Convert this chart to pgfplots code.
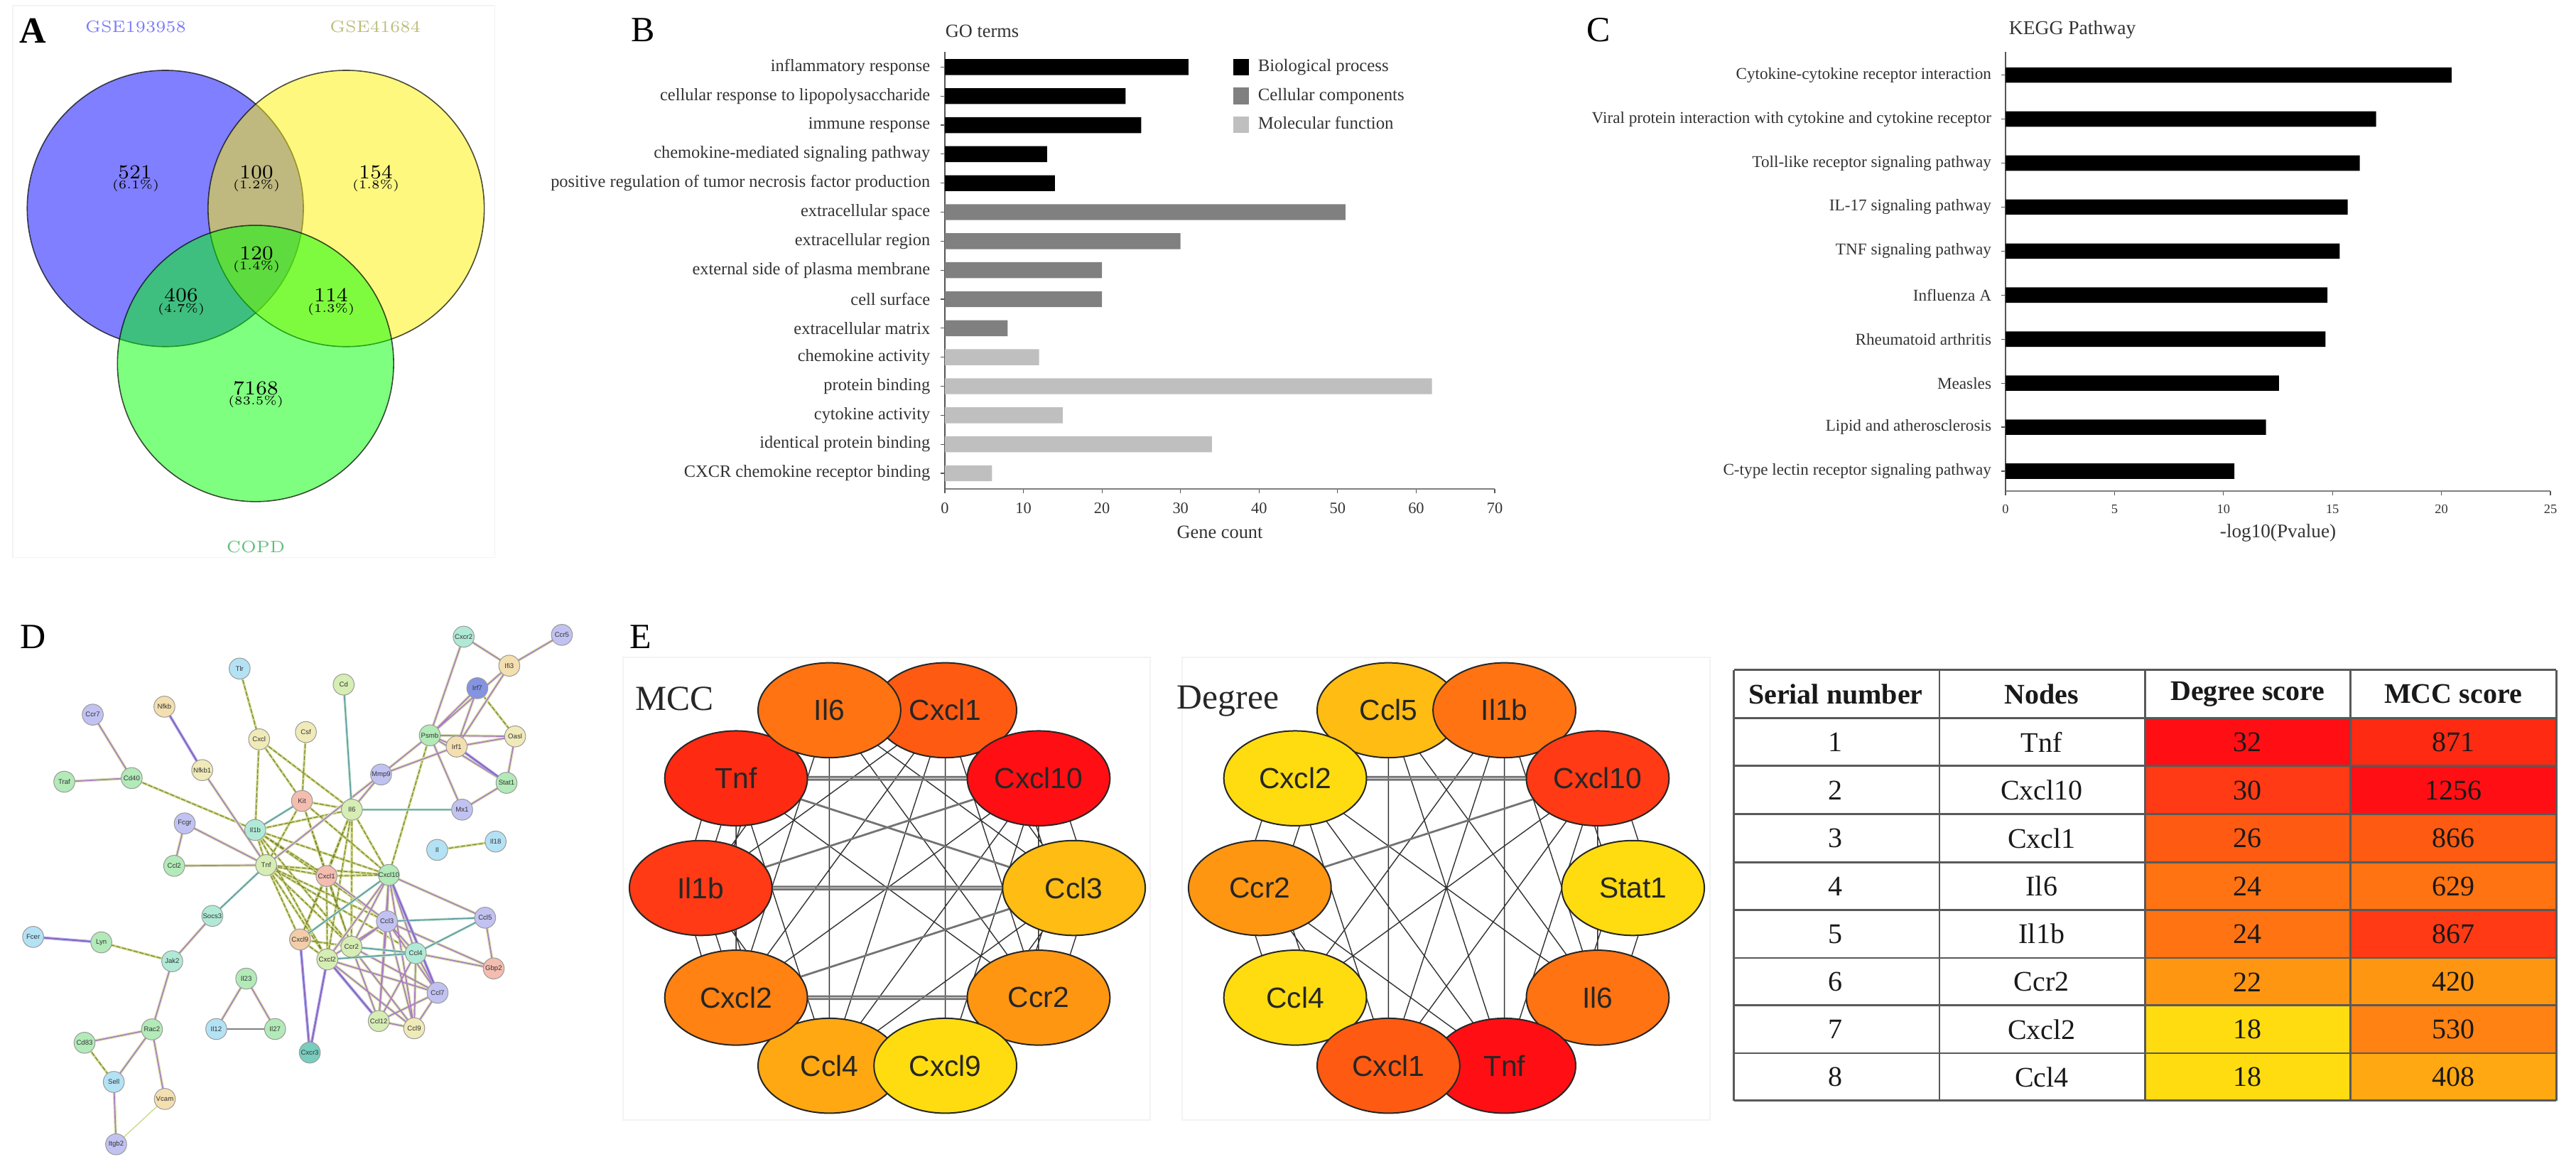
\documentclass[border=0pt]{standalone}
\usepackage{fontspec}
\usepackage{pgfplots}
\pgfplotsset{compat=1.18}
\newfontfamily\lib{Liberation Serif}
\newfontfamily\ari{Liberation Sans}
\newcommand\fs[1]{\fontsize{#1}{#1}\selectfont}

% heat colours
\definecolor{h1}{HTML}{FF0F14}\definecolor{h2}{HTML}{FF2A12}\definecolor{h3}{HTML}{FF3A14}
\definecolor{h4}{HTML}{FF5A12}\definecolor{h5}{HTML}{FF7312}\definecolor{h6}{HTML}{FF8212}
\definecolor{h7}{HTML}{FF9612}\definecolor{h8}{HTML}{FFA812}\definecolor{h9}{HTML}{FFBC12}
\definecolor{h10}{HTML}{FFDC10}
% network node colours
\definecolor{nGr}{HTML}{B2EAB8}\definecolor{nMi}{HTML}{B0EAD6}\definecolor{nLa}{HTML}{C2C2F2}
\definecolor{nBl}{HTML}{B4E2F5}\definecolor{nPe}{HTML}{F4DFB0}\definecolor{nYe}{HTML}{EFEAB8}
\definecolor{nPg}{HTML}{D6EDB4}\definecolor{nSa}{HTML}{F4BDB0}\definecolor{nDb}{HTML}{8494E2}
\definecolor{nOr}{HTML}{F2CDA8}\definecolor{nTe}{HTML}{78CDBE}
% edge colours
\definecolor{eOl}{HTML}{CFD88C}\definecolor{eOd}{HTML}{7C8430}\definecolor{ePa}{HTML}{DCE8B0}
\definecolor{ePu}{HTML}{AC7CC4}\definecolor{eTl}{HTML}{BFE4CC}\definecolor{eTd}{HTML}{5E98A4}
\definecolor{eBl}{HTML}{A8A8F4}\definecolor{eBd}{HTML}{8A5CB0}
\definecolor{frm}{HTML}{F3F3F3}
\definecolor{axc}{HTML}{555555}

\pgfplotsset{
  panel/.style n args={4}{hide axis, scale only axis, clip=false,
    anchor=center, at={({(#1+#3/2)*0.25pt},{(1651-#2-#4/2)*0.25pt})},
    width={#3*0.25pt}, height={#4*0.25pt},
    xmin=0, xmax=1568, ymin=0, ymax=1568, y dir=reverse},
  barpanel/.style={scale only axis, clip=false, enlargelimits=false,
    axis lines=left, axis line style={-, draw=axc, line width=0.45pt},
    x axis line style={-, draw=gray, line width=0.7pt},
    tick style={draw=axc, line width=0.3pt}, major tick length=1.6pt, tick align=outside,
    /pgf/number format/assume math mode=true,
    xbar, bar shift=0pt},
  enet/.style={empty line=jump, unbounded coords=jump},
  centerlabel/.style={nodes near coords={#1}, nodes near coords align=center}
}

% text at reference pixel position
\newcommand\lab[4][]{\node[inner sep=0pt, #1] at ({#2*0.25pt},{(1651-#3)*0.25pt}) {#4};}
% two-coloured edge bundle of the string network
\newcommand\bundle[3]{\addplot[enet, #1] coordinates {#3};\addplot[enet, #2] coordinates {#3};}
\newcommand\dn[4]{\addplot[only marks, mark=*, mark size=3.7pt,
    mark options={fill=#3, draw=black!40, line width=0.25pt}, centerlabel={#4},
    every node near coord/.append style={font=\ari\fs{2.4}, inner sep=0pt, text=black!80}] coordinates {(#1,#2)};}
% hub network node (ellipse)
\newcommand\en[4]{\addplot[only marks, mark=*, mark size=25.1pt,
    mark options={fill=#3, draw=black!85, line width=0.5pt, yscale=0.665}, centerlabel={#4},
    every node near coord/.append style={font=\ari\fs{10.2}, inner sep=0pt, text=black!85}] coordinates {(#1,#2)};}
\newcommand\cell[5]{\addplot[fill=#5, draw=none] coordinates {(#1,#2) (#3,#2) (#3,#4) (#1,#4)} --cycle;}
\newcommand\tx[3]{\node[font=\lib\fs{10}, inner sep=0pt, text=black!90] at (axis cs:#1,#2) {#3};}

\begin{document}
\begin{tikzpicture}
\path[use as bounding box] (0pt,0pt) rectangle (906.5pt,412.75pt);

% A: venn diagram
\begin{axis}[panel={0}{0}{800}{820}]
  \addplot[draw=frm, line width=0.4pt] coordinates {(35,15) (1365,15) (1365,1500) (35,1500)} --cycle;
  \addplot[only marks, mark=*, mark size=48.6pt, mark options={fill=blue, fill opacity=0.5, draw=black, draw opacity=0.7, line width=0.4pt}] coordinates {(456,561)};
  \addplot[only marks, mark=*, mark size=48.6pt, mark options={fill=yellow, fill opacity=0.5, draw=black, draw opacity=0.7, line width=0.4pt}] coordinates {(955,561)};
  \addplot[only marks, mark=*, mark size=48.6pt, mark options={fill=green, fill opacity=0.5, draw=black, draw opacity=0.7, line width=0.4pt}] coordinates {(705,978)};
\end{axis}
\lab{46}{43}{\fs{13}\lib\bfseries A}
\lab{191}{38}{\fs{5.8}\textcolor[HTML]{7B7BFF}{GSE193958}}
\lab{528}{38}{\fs{5.8}\textcolor[HTML]{BDBD7D}{GSE41684}}
\lab{360}{770}{\fs{5.8}\textcolor[HTML]{5DBF7D}{COPD}}
\lab{190}{242}{\fs{7}521}\lab{191}{261}{\fs{4.2}(6.1\%)}
\lab{361}{242}{\fs{7}100}\lab{361}{261}{\fs{4.2}(1.2\%)}
\lab{529}{242}{\fs{7}154}\lab{529}{261}{\fs{4.2}(1.8\%)}
\lab{361}{356}{\fs{7}120}\lab{361}{375}{\fs{4.2}(1.4\%)}
\lab{255}{415}{\fs{7}406}\lab{255}{435}{\fs{4.2}(4.7\%)}
\lab{466}{415}{\fs{7}114}\lab{466}{435}{\fs{4.2}(1.3\%)}
\lab{360}{546}{\fs{7}7168}\lab{360}{565}{\fs{4.2}(83.5\%)}

% B: GO terms
\begin{axis}[barpanel, at={(332.5pt,240.75pt)}, anchor=south west,
    width=193.5pt, height=153.75pt,
    xmin=0, xmax=70, ymin=-0.54, ymax=14.525,
    xtick={0,10,...,70}, ytick={0,...,14},
    yticklabels={CXCR chemokine receptor binding, identical protein binding, cytokine activity,
      protein binding, chemokine activity, extracellular matrix, cell surface,
      external side of plasma membrane, extracellular region, extracellular space,
      positive regulation of tumor necrosis factor production, chemokine-mediated signaling pathway,
      immune response, cellular response to lipopolysaccharide, inflammatory response},
    y tick label style={font=\lib\fs{6.1}, text=black!80, inner xsep=3.4pt},
    x tick label style={font=\lib\fs{5.6}, text=black!80, inner ysep=3pt},
    xlabel={Gene count}, xlabel style={font=\lib\fs{6.6}, text=black!80, at={(axis description cs:0.5,0)}, anchor=center, yshift=-15.3pt},
    legend style={at={(0.523,0.985)}, anchor=north west, draw=none, fill=none,
      inner sep=0pt, row sep=4.3pt, font=\lib\fs{6.2}, text=black!80,
      /tikz/every odd column/.append style={column sep=3.2pt},
      nodes={inner sep=0pt, text height=4.4pt, text depth=1.4pt}},
    legend cell align=left,
    legend image code/.code={\path[fill, #1] (0pt,-2.9pt) rectangle (5.6pt,2.9pt);}]
  \addplot[fill=black, draw=none, bar width=5.6pt] coordinates {(31,14) (23,13) (25,12) (13,11) (14,10)};
  \addlegendentry{Biological process}
  \addplot[fill=black!50, draw=none, bar width=5.6pt] coordinates {(51,9) (30,8) (20,7) (20,6) (8,5)};
  \addlegendentry{Cellular components}
  \addplot[fill=black!25, draw=none, bar width=5.6pt] coordinates {(12,4) (62,3) (15,2) (34,1) (6,0)};
  \addlegendentry{Molecular function}
\end{axis}
\lab{905}{42}{\fs{12.5}\lib B}
\lab[anchor=west]{1330}{44}{\fs{6.6}\lib\textcolor{black!80}{GO terms}}

% C: KEGG pathway
\begin{axis}[barpanel, at={(705.75pt,240pt)}, anchor=south west,
    width=191.75pt, height=154.5pt,
    xmin=0, xmax=25, ymin=-0.452, ymax=9.527,
    xtick={0,5,...,25}, ytick={0,...,9},
    yticklabels={C-type lectin receptor signaling pathway, Lipid and atherosclerosis, Measles,
      Rheumatoid arthritis, Influenza A, TNF signaling pathway, IL-17 signaling pathway,
      Toll-like receptor signaling pathway, Viral protein interaction with cytokine and cytokine receptor,
      Cytokine-cytokine receptor interaction},
    y tick label style={font=\lib\fs{5.8}, text=black!80, inner xsep=3.2pt},
    x tick label style={font=\lib\fs{4.6}, text=black!80, inner ysep=3pt},
    xlabel={-log10(Pvalue)}, xlabel style={font=\lib\fs{6.8}, text=black!80, at={(axis description cs:0.5,0)}, anchor=center, xshift=0pt, yshift=-14.8pt}]
  \addplot[fill=black, draw=none, bar width=5.4pt] coordinates {(20.46,9) (17.0,8) (16.25,7) (15.7,6) (15.33,5) (14.77,4) (14.68,3) (12.54,2) (11.95,1) (10.5,0)};
\end{axis}
\lab{2250}{42}{\fs{12.5}\lib C}
\lab[anchor=west]{2827}{42}{\fs{6.9}\lib\textcolor{black!80}{KEGG Pathway}}

% D: protein interaction network
\lab{47}{896}{\fs{12.5}\lib D}
\begin{axis}[panel={0}{850}{860}{800}]
  % olive, mostly text-mining edges
  \bundle{draw=eOl, line width=0.85pt}{draw=eOd, line width=0.28pt, dash pattern=on 1.5pt off 0.6pt}{
    (615,178) (665,373)

    (665,373) (655,623)

    (665,373) (775,543)

    (665,373) (903,567)

    (785,353) (775,543)

    (338,480) (655,623)

    (655,623) (683,720)

    (655,623) (903,567)

    (655,623) (838,750)

    (655,623) (998,747)

    (655,623) (993,875)

    (655,623) (902,945)

    (655,623) (840,980)

    (775,543) (903,567)

    (775,543) (683,720)

    (775,543) (838,750)

    (775,543) (998,747)

    (775,543) (902,945)

    (903,567) (838,750)

    (903,567) (770,925)

    (903,567) (998,747)

    (903,567) (902,945)

    (903,567) (840,980)

    (683,720) (838,750)

    (683,720) (998,747)

    (683,720) (770,925)

    (683,720) (840,980)

    (683,720) (902,945)

    (683,720) (993,875)

    (683,720) (1067,963)

    (838,750) (998,747)

    (838,750) (770,925)

    (838,750) (840,980)

    (838,750) (902,945)

    (770,925) (902,945)

    (770,925) (840,980)

    (1103,362) (998,747)

    (442,985) (260,933)

    (1122,678) (1272,655)

    (1225,232) (1322,365)

    (217,1210) (292,1318)
  }
  \addplot[draw=eOl, line width=0.35pt] coordinates {(423,1365) (298,1490)};
  % purple bundles
  \bundle{draw=ePa, line width=1.05pt}{draw=ePu, line width=0.42pt}{
    (238,305) (338,480)

    (338,480) (165,490)

    (519,458) (683,720)

    (474,605) (683,720)

    (447,722) (474,605)

    (447,722) (683,720)

    (683,720) (978,470)

    (903,567) (978,470)

    (978,470) (1103,362)

    (978,470) (1172,393)

    (1190,90) (1103,362)

    (1190,90) (1307,170)

    (1307,170) (1442,85)

    (1103,362) (1225,232)

    (1103,362) (1307,170)

    (1172,393) (1225,232)

    (1172,393) (1307,170)

    (1103,362) (1172,393)

    (1103,362) (1322,365)

    (1103,362) (1300,493)

    (1103,362) (1186,567)

    (1172,393) (1322,365)

    (1300,493) (1322,365)

    (1300,493) (1186,567)

    (545,860) (442,985)

    (442,985) (390,1173)

    (390,1173) (217,1210)

    (390,1173) (292,1318)

    (390,1173) (423,1365)

    (292,1318) (298,1490)

    (632,1033) (555,1172)

    (632,1033) (706,1172)

    (998,747) (1245,865)

    (998,747) (1067,963)

    (998,747) (993,875)

    (998,747) (902,945)

    (998,747) (840,980)

    (998,747) (1123,1072)

    (998,747) (972,1150)

    (998,747) (1063,1170)

    (993,875) (1067,963)

    (993,875) (902,945)

    (993,875) (840,980)

    (993,875) (1123,1072)

    (993,875) (972,1150)

    (993,875) (1063,1170)

    (993,875) (1267,1005)

    (838,750) (993,875)

    (1067,963) (1267,1005)

    (1245,865) (1267,1005)

    (1067,963) (1123,1072)

    (1067,963) (972,1150)

    (1067,963) (1063,1170)

    (902,945) (1123,1072)

    (902,945) (972,1150)

    (902,945) (1063,1170)

    (840,980) (1123,1072)

    (840,980) (972,1150)

    (840,980) (1063,1170)

    (1123,1072) (972,1150)

    (1123,1072) (1063,1170)

    (972,1150) (1063,1170)
  }
  % teal and blue bundles
  \bundle{draw=eTl, line width=0.9pt}{draw=eTd, line width=0.38pt}{
    (882,222) (903,567)

    (903,567) (1186,567)

    (655,623) (775,543)

    (683,720) (545,860)

    (770,925) (998,747)

    (1067,963) (1245,865)

    (902,945) (1067,963)

    (840,980) (1067,963)

    (993,875) (1245,865)
  }
  \bundle{draw=eBl, line width=1pt}{draw=eBd, line width=0.38pt}{
    (422,283) (519,458)

    (260,933) (85,918)

    (1172,393) (1300,493)

    (770,925) (795,1237)

    (840,980) (795,1237)

    (998,747) (1123,1072)

    (840,980) (972,1150)
  }
  \addplot[draw=gray, line width=0.55pt] coordinates {(555,1172) (706,1172)};
  % nodes
  \dn{1190}{90}{nMi}{Cxcr2}\dn{1442}{85}{nLa}{Ccr5}\dn{1307}{170}{nPe}{Ifi3}\dn{1225}{232}{nDb}{Irf7}
  \dn{1103}{362}{nGr}{Psmb}\dn{1322}{365}{nYe}{Oasl}\dn{1172}{393}{nPe}{Irf1}\dn{1300}{493}{nGr}{Stat1}
  \dn{978}{470}{nLa}{Mmp9}\dn{1186}{567}{nLa}{Mx1}\dn{903}{567}{nPg}{Il6}\dn{775}{543}{nSa}{Kit}
  \dn{785}{353}{nYe}{Csf}\dn{882}{222}{nPg}{Cd}\dn{665}{373}{nYe}{Cxcl}\dn{615}{178}{nBl}{Tlr}
  \dn{422}{283}{nPe}{Nfkb}\dn{519}{458}{nYe}{Nfkb1}\dn{238}{305}{nLa}{Ccr7}\dn{338}{480}{nGr}{Cd40}
  \dn{165}{490}{nGr}{Traf}\dn{474}{605}{nLa}{Fcgr}\dn{655}{623}{nMi}{Il1b}\dn{447}{722}{nGr}{Ccl2}
  \dn{683}{720}{nPg}{Tnf}\dn{838}{750}{nSa}{Cxcl1}\dn{998}{747}{nGr}{Cxcl10}\dn{1122}{678}{nBl}{Il}
  \dn{1272}{655}{nBl}{Il18}\dn{993}{875}{nLa}{Ccl3}\dn{1245}{865}{nLa}{Ccl5}\dn{1267}{1005}{nSa}{Gbp2}
  \dn{1067}{963}{nMi}{Ccl4}\dn{902}{945}{nPg}{Ccr2}\dn{840}{980}{nPg}{Cxcl2}\dn{770}{925}{nOr}{Cxcl9}
  \dn{1123}{1072}{nLa}{Ccl7}\dn{972}{1150}{nPg}{Ccl12}\dn{1063}{1170}{nYe}{Ccl9}\dn{795}{1237}{nTe}{Cxcr3}
  \dn{545}{860}{nMi}{Socs3}\dn{442}{985}{nMi}{Jak2}\dn{260}{933}{nGr}{Lyn}\dn{85}{918}{nBl}{Fcer}
  \dn{632}{1033}{nGr}{Il23}\dn{555}{1172}{nBl}{Il12}\dn{706}{1172}{nGr}{Il27}\dn{390}{1173}{nGr}{Rac2}
  \dn{217}{1210}{nGr}{Cd83}\dn{292}{1318}{nBl}{Sell}\dn{423}{1365}{nPe}{Vcam}\dn{298}{1490}{nLa}{Itgb2}
\end{axis}

% E: hub gene networks
\lab{902}{896}{\fs{12.5}\lib E}
\begin{axis}[panel={860}{880}{1560}{740}]
  \addplot[draw=frm, line width=0.4pt] coordinates {(17,95) (763,95) (763,1475) (17,1475)} --cycle;
  \addplot[draw=frm, line width=0.4pt] coordinates {(808,95) (1555,95) (1555,1475) (808,1475)} --cycle;
  % MCC edges
  \addplot[enet, draw=black!80, line width=0.35pt] coordinates {
    (473,253) (473,1313)

    (309,253) (127,783)

    (309,253) (177,1110)

    (309,253) (309,1313)

    (309,253) (655,783)

    (309,253) (605,1110)

    (473,253) (127,783)

    (473,253) (177,1110)

    (473,253) (309,1313)

    (473,253) (655,783)

    (473,253) (605,1110)

    (177,456) (177,1110)

    (177,456) (309,1313)

    (177,456) (605,1110)

    (605,456) (177,1110)

    (605,456) (309,1313)

    (605,456) (473,1313)

    (605,456) (605,1110)

    (655,783) (309,1313)

    (655,783) (473,1313)

    (127,783) (309,1313)

    (145,456) (100,783)

    (205,456) (155,783)

    (100,783) (145,1110)

    (155,783) (205,1110)

    (630,456) (680,783)

    (580,456) (630,783)

    (630,783) (580,1110)

    (680,783) (630,1110)

    (177,456) (127,783)

    (127,783) (177,1110)
  };
  \addplot[enet, draw=black!55, line width=0.7pt] coordinates {
    (177,452) (605,452)

    (177,460) (605,460)

    (127,779) (655,779)

    (127,787) (655,787)

    (177,1106) (605,1106)

    (177,1114) (605,1114)

    (177,456) (655,783)

    (127,783) (605,456)

    (177,1110) (655,783)
  };
  \en{473}{253}{h4}{Cxcl1}\en{177}{456}{h2}{Tnf}\en{309}{253}{h5}{Il6}\en{605}{456}{h1}{Cxcl10}
  \en{655}{783}{h9}{Ccl3}\en{127}{783}{h3}{Il1b}\en{309}{1313}{h8}{Ccl4}\en{177}{1110}{h6}{Cxcl2}
  \en{605}{1110}{h7}{Ccr2}\en{473}{1313}{h10}{Cxcl9}
  % Degree edges
  \addplot[enet, draw=black!80, line width=0.35pt] coordinates {
    (1100,253) (1100,1313)

    (1264,253) (1264,1313)

    (1100,253) (1264,1313)

    (1264,253) (1100,1313)

    (1100,253) (1396,1110)

    (1264,253) (968,1110)

    (968,456) (1264,1313)

    (968,456) (1396,1110)

    (968,456) (1100,1313)

    (1396,456) (968,1110)

    (1396,456) (1100,1313)

    (1396,456) (1264,1313)

    (918,783) (1264,1313)

    (918,783) (1100,1313)

    (1264,253) (1396,1110)

    (1396,456) (1396,1110)

    (1370,456) (1420,783)

    (1425,456) (1475,783)

    (1420,783) (1370,1110)

    (1475,783) (1425,1110)

    (940,456) (890,783)

    (996,456) (946,783)

    (890,783) (940,1110)

    (946,783) (996,1110)
  };
  \addplot[enet, draw=black!55, line width=0.7pt] coordinates {
    (968,452) (1396,452)

    (968,460) (1396,460)

    (918,783) (1396,456)
  };
  \en{1100}{253}{h9}{Ccl5}\en{1264}{253}{h5}{Il1b}\en{968}{456}{h10}{Cxcl2}\en{1396}{456}{h3}{Cxcl10}
  \en{918}{783}{h7}{Ccr2}\en{1446}{783}{h10}{Stat1}\en{968}{1110}{h10}{Ccl4}\en{1396}{1110}{h5}{Il6}
  \en{1264}{1313}{h1}{Tnf}\en{1100}{1313}{h4}{Cxcl1}
  \node[font=\lib\fs{12.4}, text=black!85] at (axis cs:90,218) {MCC};
  \node[font=\lib\fs{12.4}, text=black!85] at (axis cs:873,225) {Degree};
\end{axis}

% E: score table
\begin{axis}[panel={2420}{920}{1206}{680}]
  \cell{779}{209}{1155}{364}{h1}\cell{1155}{209}{1532}{364}{h2}
  \cell{779}{364}{1155}{520}{h3}\cell{1155}{364}{1532}{520}{h1}
  \cell{779}{520}{1155}{676}{h4}\cell{1155}{520}{1532}{676}{h4}
  \cell{779}{676}{1155}{831}{h5}\cell{1155}{676}{1532}{831}{h5}
  \cell{779}{831}{1155}{987}{h5}\cell{1155}{831}{1532}{987}{h3}
  \cell{779}{987}{1155}{1141}{h7}\cell{1155}{987}{1532}{1141}{h7}
  \cell{779}{1141}{1155}{1296}{h10}\cell{1155}{1141}{1532}{1296}{h6}
  \cell{779}{1296}{1155}{1450}{h10}\cell{1155}{1296}{1532}{1450}{h8}
  \addplot[enet, draw=black!65, line width=0.7pt] coordinates {
    (27,52) (1532,52)

    (27,209) (1532,209)

    (27,364) (1532,364)

    (27,520) (1532,520)

    (27,676) (1532,676)

    (27,831) (1532,831)

    (27,987) (1532,987)

    (27,1141) (1532,1141)

    (27,1296) (1532,1296)

    (27,1450) (1532,1450)

    (27,52) (27,1450)

    (403,52) (403,1450)

    (779,52) (779,1450)

    (1155,52) (1155,1450)

    (1532,52) (1532,1450)
  };
  \tx{213}{131}{\bfseries Serial number}\tx{590}{131}{\bfseries Nodes}
  \tx{967}{131}{\bfseries Degree score}\tx{1343}{131}{\bfseries MCC score}
  \tx{213}{287}{1}\tx{590}{287}{Tnf}\tx{967}{287}{32}\tx{1343}{287}{871}
  \tx{213}{443}{2}\tx{590}{443}{Cxcl10}\tx{967}{443}{30}\tx{1343}{443}{1256}
  \tx{213}{598}{3}\tx{590}{598}{Cxcl1}\tx{967}{598}{26}\tx{1343}{598}{866}
  \tx{213}{754}{4}\tx{590}{754}{Il6}\tx{967}{754}{24}\tx{1343}{754}{629}
  \tx{213}{909}{5}\tx{590}{909}{Il1b}\tx{967}{909}{24}\tx{1343}{909}{867}
  \tx{213}{1065}{6}\tx{590}{1065}{Ccr2}\tx{967}{1065}{22}\tx{1343}{1065}{420}
  \tx{213}{1219}{7}\tx{590}{1219}{Cxcl2}\tx{967}{1219}{18}\tx{1343}{1219}{530}
  \tx{213}{1374}{8}\tx{590}{1374}{Ccl4}\tx{967}{1374}{18}\tx{1343}{1374}{408}
\end{axis}
\end{tikzpicture}
\end{document}
